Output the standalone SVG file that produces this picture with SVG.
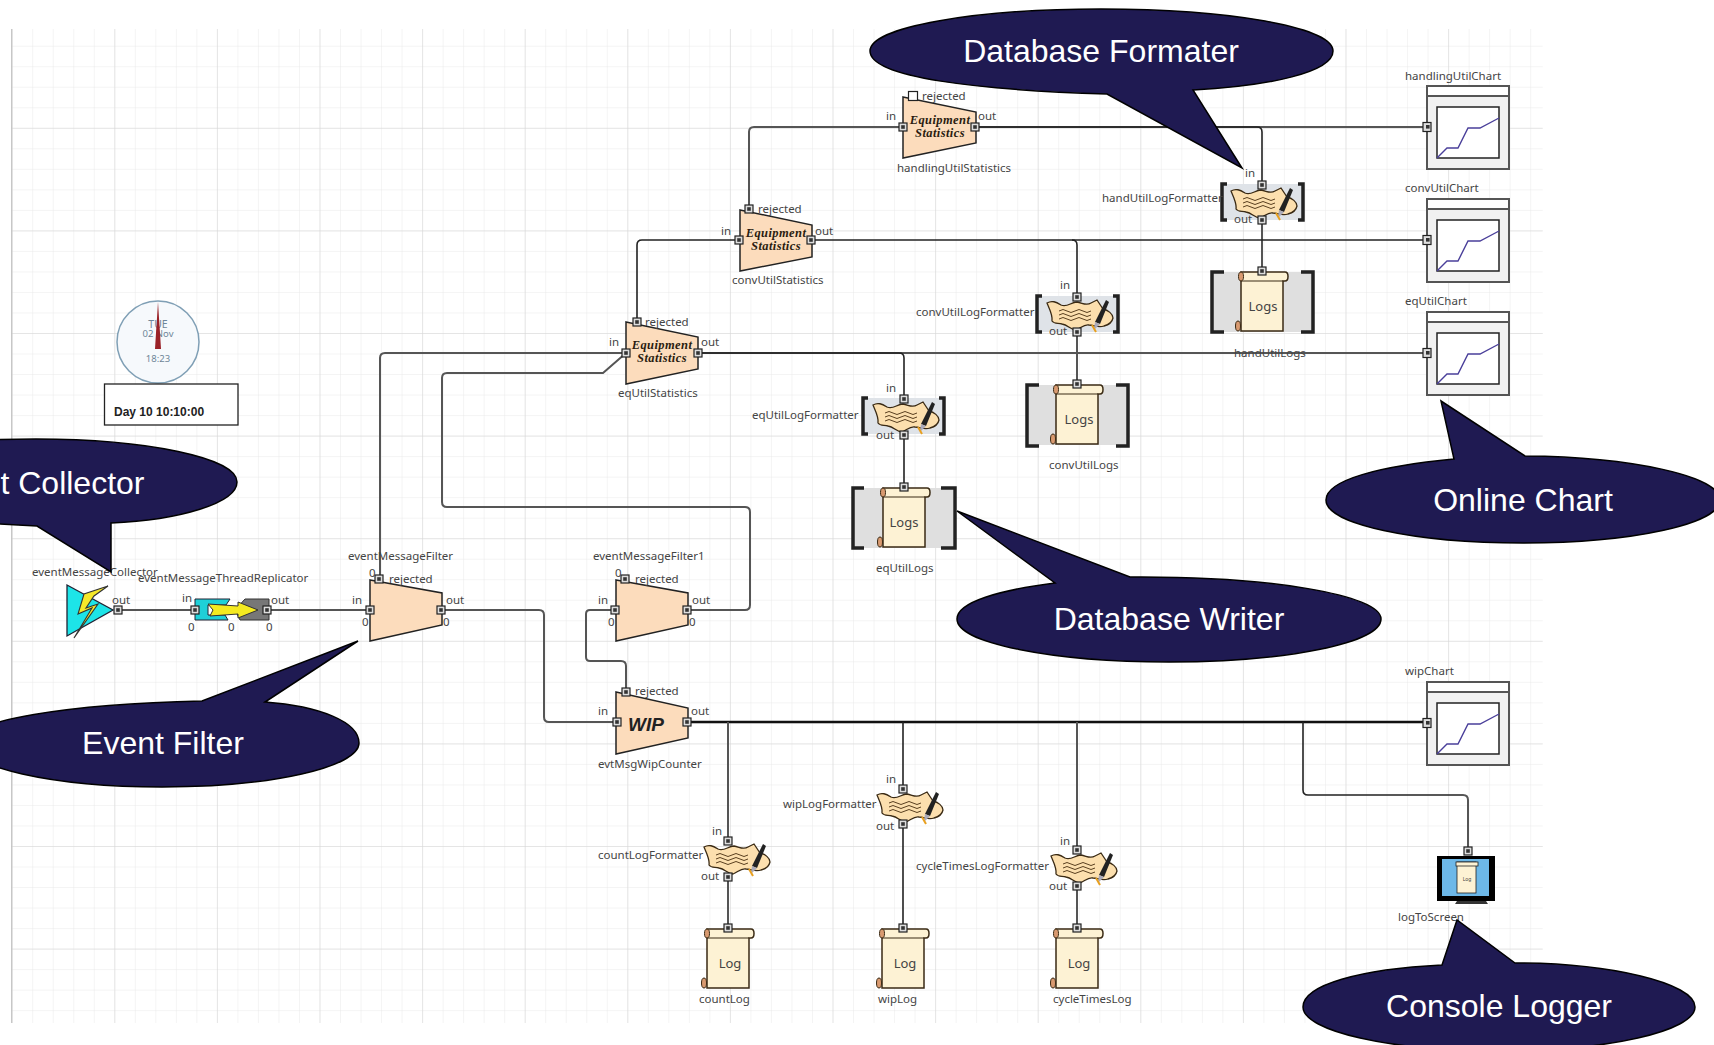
<svg xmlns="http://www.w3.org/2000/svg" xmlns:xlink="http://www.w3.org/1999/xlink" width="1714" height="1045" viewBox="0 0 1714 1045">
<style>
.t{font-family:"Noto Sans","Open Sans",sans-serif;font-size:11.5px;fill:#444}
.c{fill:none;stroke:#555;stroke-width:2}
.k{fill:none;stroke:#222;stroke-width:1.6}
.n{fill:#fcdcbc;stroke:#222;stroke-width:1.5}
.eq{font-family:"Liberation Serif",serif;font-weight:bold;font-style:italic;font-size:12.5px;fill:#2a1c10;text-anchor:middle;letter-spacing:.4px}
.b{fill:#1f1a52;stroke:#000;stroke-width:1.5}
.bt{font-family:"Liberation Sans",sans-serif;font-size:32px;fill:#fff;text-anchor:middle}
.br{fill:none;stroke:#222;stroke-width:3.5}
</style>
<defs>
<pattern id="gm" patternUnits="userSpaceOnUse" x="11.7" y="25.2" width="20.52" height="20.52"><path d="M20.52 0H0V20.52" fill="none" stroke="#e9e9e9" stroke-width="1"/></pattern>
<pattern id="gj" patternUnits="userSpaceOnUse" x="11.7" y="25.2" width="102.6" height="102.6"><path d="M102.6 0H0V102.6" fill="none" stroke="#d6d6d6" stroke-width="1"/></pattern>
<g id="p"><rect x="-4" y="-4" width="8" height="8" fill="#ddd" stroke="#222" stroke-width="1.2"/><rect x="-1.8" y="-1.8" width="3.6" height="3.6" fill="#333"/></g>
<g id="pw"><rect x="-4.5" y="-4.5" width="9" height="9" fill="#fff" stroke="#222" stroke-width="1.2"/></g>
<g id="fmt">
<path d="M1 6C6 3 10 5 15 8C21 11 25 5 31 5C37 6 40 9 45 6L51 3L57 12C62 13 67 17 67 21C66 26 62 28 58 29C52 31 48 28 43 28C38 27 35 31 30 33C25 33 22 28 16 27C11 26 8 27 6 24C7 18 3 11 1 6Z" fill="#fcdfae" stroke="#3a2a14" stroke-width="1.3"/>
<path d="M13 14q4-3 8 0t8 0t8 0t8 0M13 18q4-3 8 0t8 0t8 0t8 0M13 22q4-3 8 0t8 0t8 0t8 0" fill="none" stroke="#5a4020" stroke-width="1"/>
<path d="M49 25L60 3L63 5L54 27Z" fill="#222"/><path d="M49 25L54 27L48 33Z" fill="#aab"/><path d="M46 28L50 35" stroke="#e8a020" stroke-width="2" fill="none"/>
</g>
<g id="scroll">
<path d="M-21 1H23Q26 1 26 5.500Q26 10 23 10H21V60H-21Z" fill="#fdf2d4" stroke="#3a2a14" stroke-width="1.5"/>
<path d="M-21 10H21" stroke="#3a2a14" stroke-width="1.2"/>
<ellipse cx="-21" cy="5.500" rx="2.500" ry="4.500" fill="#d99a70" stroke="#3a2a14"/>
<ellipse cx="-24" cy="55" rx="2.500" ry="5" fill="#d99a70" stroke="#3a2a14"/>
</g>
<g id="chart">
<rect x="0" y="0" width="82" height="83" fill="#f1f1f1" stroke="#555" stroke-width="2"/>
<rect x="0" y="0" width="82" height="10" fill="#fff" stroke="#555" stroke-width="2"/>
<rect x="10" y="21" width="62" height="51" fill="#fff" stroke="#222" stroke-width="1.5"/>
<path d="M10 72L20 62H31L41 42H53L72 32" fill="none" stroke="#4a3f9a" stroke-width="1.4"/>
<rect x="-4" y="36.500" width="8" height="9" fill="#ddd" stroke="#222" stroke-width="1.2"/><rect x="-1" y="39" width="3.600" height="3.600" fill="#333"/>
</g>
</defs>
<rect width="1714" height="1045" fill="#fff"/>
<g id="grid">
<rect x="11.7" y="29" width="1531" height="994" fill="url(#gm)"/>
<rect x="11.7" y="29" width="1531" height="994" fill="url(#gj)"/>
<path d="M11.7 29V1023" stroke="#bbb"/>
</g>
<g id="connectors">
<path class="c" d="M118 610H195M267 610H370"/>
<path class="c" d="M380 579V358Q380 353 385 353H626"/>
<path class="c" d="M686 610H745Q750 610 750 605V512Q750 507 745 507H447Q442 507 442 502V378Q442 373 447 373H603L626 353"/>
<path class="c" d="M441 610H539Q544 610 544 615V717Q544 722 549 722H617"/>
<path class="c" d="M615 610H590Q586 610 586 614V657Q586 661 590 661H621Q626 661 626 666V692"/>
<path class="k" d="M637 322V245Q637 240 642 240H739"/>
<path class="c" d="M749 209V132Q749 127 754 127H903"/>
<path class="c" d="M975 127H1427"/>
<path class="k" d="M975 127H1257Q1262 127 1262 132V185"/>
<path class="c" d="M1262 220V271"/>
<path class="k" d="M811 240H1427"/>
<path class="k" d="M1072 240Q1077 240 1077 245V297"/>
<path class="c" d="M1077 332V384"/>
<path class="c" d="M698 353H1427"/>
<path class="k" d="M698 353H899Q904 353 904 358V399M904 435V487"/>
<path fill="none" stroke="#111" stroke-width="2.600" d="M687 722H1427"/>
<path class="c" d="M728 722V841M728 877V928"/>
<path class="k" d="M903 722V789M903 824V928"/>
<path class="c" d="M1077 722V850M1077 886V928"/>
<path class="k" d="M1303 722V790Q1303 795 1308 795H1463"/>
<path class="c" d="M1463 795Q1468 795 1468 800V851"/>
</g>
<g id="clock">
<circle cx="158" cy="342" r="41" fill="#f6f9fc" stroke="#7f9fb5" stroke-width="1.500"/>
<text x="158" y="328" text-anchor="middle" style="font-family:'Noto Sans',sans-serif;font-size:10.500px;fill:#6e8698">TUE</text>
<text x="158" y="337" text-anchor="middle" style="font-family:'Noto Sans',sans-serif;font-size:9.500px;fill:#6e8698">02 Nov</text>
<text x="158" y="362" text-anchor="middle" style="font-family:'Noto Sans',sans-serif;font-size:9.500px;fill:#6e8698">18:23</text>
<path d="M158 302L161 349H155Z" fill="#9a2228"/>
</g>
<g id="daybox">
<rect x="104.500" y="384" width="133.500" height="41" fill="#fff" stroke="#222" stroke-width="1.300"/>
<text x="114" y="416" style="font-family:'Liberation Sans',sans-serif;font-weight:bold;font-size:12px;fill:#222">Day 10 10:10:00</text>
</g>
<g id="eventMessageCollector">
<path d="M67 585L113 610L67 636Z" fill="#1de4e8" stroke="#223" stroke-width="1.300"/>
<path d="M108 586L84 594L78 614L92 608L74 638L98 604L86 608L94 596Z" fill="#f5e82a" stroke="#333" stroke-width="1.100"/>
<use href="#p" x="118" y="610"/>
<text class="t" x="32" y="576">eventMessageCollector</text>
<text class="t" x="112" y="604">out</text>
</g>
<g id="eventMessageThreadReplicator">
<path d="M195 599H230L226 605H208V615H225L228 620H195Z" fill="#1fd0d8" stroke="#223"/>
<path d="M235 610L245 599H269V620H240Z" fill="#777" stroke="#333"/>
<path d="M208 604L238 606V602L258 610L238 618V614L210 616L213 610Z" fill="#f5ea20" stroke="#333"/>
<use href="#p" x="195" y="610"/><use href="#p" x="267" y="610"/>
<text class="t" x="138" y="582">eventMessageThreadReplicator</text>
<text class="t" x="182" y="602">in</text><text class="t" x="271" y="604">out</text>
<text class="t" x="188" y="631">0</text><text class="t" x="228" y="631">0</text><text class="t" x="266" y="631">0</text>
</g>
<g id="eventMessageFilter">
<path class="n" d="M370 580L442 593V625L370 641Z"/>
<use href="#p" x="370" y="610"/><use href="#p" x="441" y="610"/><use href="#p" x="379" y="579"/>
<text class="t" x="348" y="560">eventMessageFilter</text>
<text class="t" x="369" y="577">0</text><text class="t" x="389" y="583">rejected</text>
<text class="t" x="352" y="604">in</text><text class="t" x="362" y="626">0</text>
<text class="t" x="446" y="604">out</text><text class="t" x="443" y="626">0</text>
</g>
<g id="eventMessageFilter1">
<path class="n" d="M616 580L688 593V625L616 641Z"/>
<use href="#p" x="615" y="610"/><use href="#p" x="687" y="610"/><use href="#p" x="625" y="579" xlink:href="#pw"/>
<text class="t" x="593" y="560">eventMessageFilter1</text>
<text class="t" x="615" y="577">0</text><text class="t" x="635" y="583">rejected</text>
<text class="t" x="598" y="604">in</text><text class="t" x="608" y="626">0</text>
<text class="t" x="692" y="604">out</text><text class="t" x="689" y="626">0</text>
</g>
<g id="evtMsgWipCounter">
<path class="n" d="M616 692L688 708V738L616 754Z"/>
<use href="#p" x="617" y="722"/><use href="#p" x="687" y="722"/><use href="#p" x="626" y="692"/>
<text x="628" y="731" style="font-family:'Liberation Sans',sans-serif;font-weight:bold;font-style:italic;font-size:19px;fill:#222">WIP</text>
<text class="t" x="635" y="695">rejected</text><text class="t" x="598" y="715">in</text><text class="t" x="691" y="715">out</text>
<text class="t" x="598" y="768">evtMsgWipCounter</text>
</g>
<g id="eqUtilStatistics">
<path class="n" d="M626 322L698 337V369L626 384Z"/>
<use href="#p" x="626" y="353"/><use href="#p" x="698" y="353"/><use href="#p" x="637" y="322"/>
<text class="eq" x="662" y="349">Equipment</text><text class="eq" x="662" y="362">Statistics</text>
<text class="t" x="645" y="326">rejected</text><text class="t" x="609" y="346">in</text><text class="t" x="701" y="346">out</text>
<text class="t" x="618" y="397">eqUtilStatistics</text>
</g>
<g id="convUtilStatistics">
<path class="n" d="M740 210L812 225V257L740 271Z"/>
<use href="#p" x="739" y="240"/><use href="#p" x="811" y="240"/><use href="#p" x="749" y="209"/>
<text class="eq" x="776" y="237">Equipment</text><text class="eq" x="776" y="250">Statistics</text>
<text class="t" x="758" y="213">rejected</text><text class="t" x="721" y="235">in</text><text class="t" x="815" y="235">out</text>
<text class="t" x="732" y="284">convUtilStatistics</text>
</g>
<g id="handlingUtilStatistics">
<path class="n" d="M903 97L976 112V143L903 158Z"/>
<use href="#p" x="903" y="127"/><use href="#p" x="975" y="127"/><use href="#pw" x="913" y="96"/>
<text class="eq" x="940" y="124">Equipment</text><text class="eq" x="940" y="137">Statistics</text>
<text class="t" x="922" y="100">rejected</text><text class="t" x="886" y="120">in</text><text class="t" x="978" y="120">out</text>
<text class="t" x="897" y="172">handlingUtilStatistics</text>
</g>
<g id="handUtilLogFormatter">
<rect x="1223" y="184" width="79" height="36" fill="#dfe3e8"/>
<path class="br" d="M1227 184H1222V220H1227M1298 184H1303V220H1298"/>
<use href="#fmt" x="1230" y="185"/>
<use href="#p" x="1262" y="185"/><use href="#p" x="1262" y="220"/>
<text class="t" x="1102" y="202">handUtilLogFormatter</text><text class="t" x="1245" y="177">in</text><text class="t" x="1234" y="223">out</text>
</g>
<g id="convUtilLogFormatter">
<rect x="1038" y="296" width="79" height="36" fill="#dfe3e8"/>
<path class="br" d="M1042 296H1037V332H1042M1113 296H1118V332H1113"/>
<use href="#fmt" x="1046" y="297"/>
<use href="#p" x="1077" y="297"/><use href="#p" x="1077" y="332"/>
<text class="t" x="916" y="316">convUtilLogFormatter</text><text class="t" x="1060" y="289">in</text><text class="t" x="1049" y="335">out</text>
</g>
<g id="eqUtilLogFormatter">
<rect x="864" y="398" width="79" height="36" fill="#dfe3e8"/>
<path class="br" d="M868 398H863V434H868M939 398H944V434H939"/>
<use href="#fmt" x="872" y="399"/>
<use href="#p" x="904" y="399"/><use href="#p" x="904" y="435"/>
<text class="t" x="752" y="419">eqUtilLogFormatter</text><text class="t" x="886" y="392">in</text><text class="t" x="876" y="439">out</text>
</g>
<g id="wipLogFormatter">
<use href="#fmt" x="876" y="789"/><use href="#p" x="903" y="789"/><use href="#p" x="903" y="824"/>
<text class="t" x="783" y="808">wipLogFormatter</text><text class="t" x="886" y="783">in</text><text class="t" x="876" y="830">out</text>
</g>
<g id="countLogFormatter">
<use href="#fmt" x="703" y="841"/><use href="#p" x="728" y="841"/><use href="#p" x="728" y="877"/>
<text class="t" x="598" y="859">countLogFormatter</text><text class="t" x="712" y="835">in</text><text class="t" x="701" y="880">out</text>
</g>
<g id="cycleTimesLogFormatter">
<use href="#fmt" x="1050" y="850"/><use href="#p" x="1077" y="850"/><use href="#p" x="1077" y="886"/>
<text class="t" x="916" y="870">cycleTimesLogFormatter</text><text class="t" x="1060" y="845">in</text><text class="t" x="1049" y="890">out</text>
</g>
<g id="handUtilLogs">
<rect x="1213" y="272" width="100" height="60" fill="#dfdfdf"/>
<path class="br" d="M1224 272H1212V332H1224M1301 272H1313V332H1301"/>
<use href="#scroll" x="1262" y="271"/><use href="#p" x="1262" y="271"/>
<text x="1263" y="311" text-anchor="middle" class="t" style="font-size:13px">Logs</text>
<text class="t" x="1234" y="357">handUtilLogs</text>
</g>
<g id="convUtilLogs">
<rect x="1027" y="385" width="100" height="60" fill="#dfdfdf"/>
<path class="br" d="M1039 385H1027V446H1039M1116 385H1128V446H1116"/>
<use href="#scroll" x="1077" y="384"/><use href="#p" x="1077" y="384"/>
<text x="1079" y="424" text-anchor="middle" class="t" style="font-size:13px">Logs</text>
<text class="t" x="1049" y="469">convUtilLogs</text>
</g>
<g id="eqUtilLogs">
<rect x="853" y="488" width="100" height="60" fill="#dfdfdf"/>
<path class="br" d="M864 488H853V548H864M941 488H955V548H941"/>
<use href="#scroll" x="904" y="487"/><use href="#p" x="904" y="487"/>
<text x="904" y="527" text-anchor="middle" class="t" style="font-size:13px">Logs</text>
<text class="t" x="876" y="572">eqUtilLogs</text>
</g>
<g id="countLog">
<use href="#scroll" x="728" y="928"/><use href="#p" x="728" y="928"/>
<text x="730" y="968" text-anchor="middle" class="t" style="font-size:13px">Log</text>
<text class="t" x="699" y="1003">countLog</text>
</g>
<g id="wipLog">
<use href="#scroll" x="903" y="928"/><use href="#p" x="903" y="928"/>
<text x="905" y="968" text-anchor="middle" class="t" style="font-size:13px">Log</text>
<text class="t" x="878" y="1003">wipLog</text>
</g>
<g id="cycleTimesLog">
<use href="#scroll" x="1077" y="928"/><use href="#p" x="1077" y="928"/>
<text x="1079" y="968" text-anchor="middle" class="t" style="font-size:13px">Log</text>
<text class="t" x="1053" y="1003">cycleTimesLog</text>
</g>
<g id="handlingUtilChart"><use href="#chart" x="1427" y="86"/><text class="t" x="1405" y="80">handlingUtilChart</text></g>
<g id="convUtilChart"><use href="#chart" x="1427" y="199"/><text class="t" x="1405" y="192">convUtilChart</text></g>
<g id="eqUtilChart"><use href="#chart" x="1427" y="312"/><text class="t" x="1405" y="305">eqUtilChart</text></g>
<g id="wipChart"><use href="#chart" x="1427" y="682"/><text class="t" x="1405" y="675">wipChart</text></g>
<g id="logToScreen">
<rect x="1437" y="856" width="58" height="45" fill="#000"/>
<rect x="1442" y="859" width="47" height="37" fill="#6db8e8"/>
<path d="M1457 901H1486L1488 904H1455Z" fill="#333"/>
<rect x="1457" y="862" width="19" height="31" fill="#fdf2d4" stroke="#222" stroke-width=".8"/>
<rect x="1456" y="862" width="22" height="4" fill="#fdf2d4" stroke="#222" stroke-width=".8"/>
<text x="1467" y="881" text-anchor="middle" style="font-family:'Noto Sans',sans-serif;font-size:5px;fill:#444">Log</text>
<use href="#p" x="1468" y="851"/>
<text class="t" x="1398" y="921">logToScreen</text>
</g>
<g id="calloutFormater">
<path class="b" d="M1107 94C980 90 870 78 870 51C870 27 975 9 1101 9C1229 9 1333 27 1333 51C1333 72 1270 86 1193 90L1242 168Z"/>
<text class="bt" x="1101" y="62">Database Formater</text>
</g>
<g id="calloutCollector">
<path class="b" d="M37 526C-90 520 -164 505 -164 482C-164 458 -75 439 36 439C147 439 237 458 237 482C237 503 180 520 111 523V572Z"/>
<text class="bt" x="36" y="494">Event Collector</text>
</g>
<g id="calloutChart">
<path class="b" d="M1454 459C1380 466 1326 480 1326 500C1326 524 1414 543 1523 543C1632 543 1720 524 1720 500C1720 476 1632 457 1525 456L1441 401Z"/>
<text class="bt" x="1523" y="511">Online Chart</text>
</g>
<g id="calloutWriter">
<path class="b" d="M1055 583C1000 590 957 602 957 619C957 643 1052 662 1169 662C1286 662 1381 643 1381 619C1381 595 1270 576 1130 577L957 511Z"/>
<text class="bt" x="1169" y="630">Database Writer</text>
</g>
<g id="calloutFilter">
<path class="b" d="M202 701C70 704 -35 720 -35 743C-35 767 52 787 162 787C272 787 359 767 359 743C359 722 320 706 265 702L358 641Z"/>
<text class="bt" x="163" y="754">Event  Filter</text>
</g>
<g id="calloutLogger">
<path class="b" d="M1442 965C1360 969 1303 985 1303 1007C1303 1031 1390 1051 1499 1051C1608 1051 1695 1031 1695 1007C1695 983 1610 963 1515 963L1457 920Z"/>
<text class="bt" x="1499" y="1017">Console Logger</text>
</g>
</svg>
